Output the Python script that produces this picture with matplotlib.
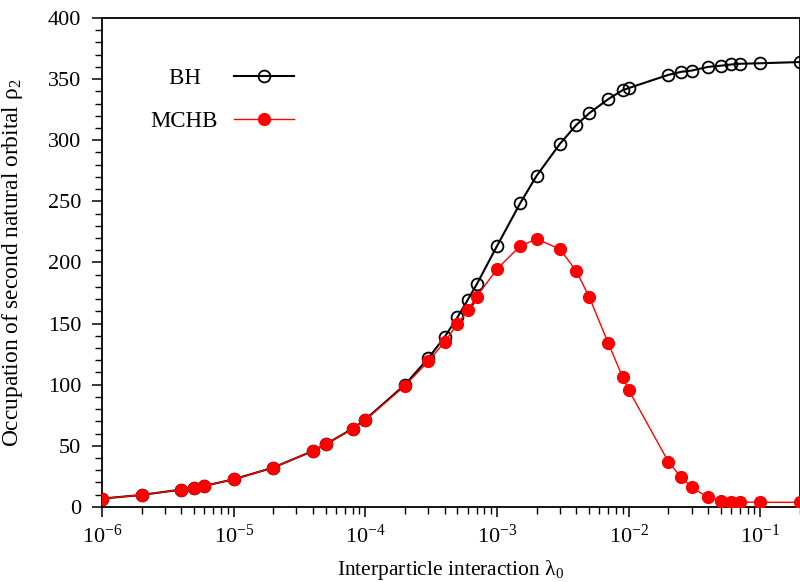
import matplotlib
matplotlib.use('Agg')
import matplotlib.pyplot as plt

# Serif, Times-like look
plt.rcParams['font.family'] = ['Liberation Serif', 'DejaVu Serif']
plt.rcParams['mathtext.fontset'] = 'custom'
plt.rcParams['mathtext.rm'] = 'Liberation Serif'
plt.rcParams['mathtext.it'] = 'Liberation Serif:italic'
plt.rcParams['axes.unicode_minus'] = False

# interaction strength lambda_0
lam_bh = [1e-6, 2e-6, 4e-6, 5e-6, 6e-6, 1e-5, 2e-5, 4e-5, 5e-5, 8e-5, 1e-4,
          2e-4, 3e-4, 4e-4, 5e-4, 6e-4, 7e-4, 1e-3, 1.5e-3, 2e-3, 3e-3, 4e-3,
          5e-3, 7e-3, 9e-3, 1e-2, 2e-2, 2.5e-2, 3e-2, 4e-2, 5e-2, 6e-2, 7e-2,
          1e-1, 2e-1]
rho_bh = [6.8, 9.8, 14.2, 15.8, 17.2, 22.6, 32.2, 45.8, 51.3, 64.0, 71.5,
          100.0, 121.5, 139.0, 155.0, 169.5, 182.0, 213.5, 248.5, 271.0, 297.0, 312.5,
          322.0, 333.7, 341.0, 342.7, 353.5, 356.0, 357.0, 360.0, 361.0, 362.0, 362.6,
          363.0, 364.0]

lam_mc = lam_bh
rho_mc = [6.8, 9.8, 14.2, 15.8, 17.2, 22.6, 32.2, 45.8, 51.3, 63.8, 71.2,
          99.2, 119.0, 135.0, 149.7, 161.0, 172.0, 194.7, 213.5, 219.2, 211.0, 193.0,
          172.0, 134.0, 106.0, 95.7, 37.0, 24.3, 16.0, 8.0, 5.0, 4.0, 4.0,
          3.8, 3.8]

fig = plt.figure(figsize=(8, 5.82), dpi=100)
ax = fig.add_axes([0.1275, 0.129, 0.8725, 0.840])

# trailing spaces so that the short label sits centred over the long one
ax.plot(lam_bh, rho_bh, '-o', color='black', lw=1.5, ms=8.5,
        mfc='none', mec='black', mew=1.3, label='BH\u00a0\u00a0\u00a0', zorder=2)
ax.plot(lam_mc, rho_mc, '-o', color='red', lw=1.0, ms=8.5,
        mfc='red', mec='red', label='MCHB', zorder=3)

ax.set_xscale('log')
ax.set_xlim(1e-6, 2e-1)
ax.set_ylim(0, 400)
ax.set_yticks(range(0, 401, 50))
ax.set_yticks(range(0, 401, 10), minor=True)

ax.tick_params(which='both', direction='out', top=False, right=False,
               labelsize=16)
ax.tick_params(which='major', length=7, width=1.1)
ax.tick_params(which='minor', length=5, width=1.0)
ax.tick_params(axis='y', pad=8)
ax.tick_params(axis='x', pad=6)

for s in ax.spines.values():
    s.set_linewidth(1.3)

ax.set_xlabel('Interparticle interaction λ$_0$', fontsize=15.5)
ax.set_ylabel('Occupation of second natural orbital ρ$_2$', fontsize=16.8)
ax.xaxis.set_label_coords(0.5, -0.104)
ax.yaxis.set_label_coords(-0.11, 0.5)

ax.legend(loc='upper left', bbox_to_anchor=(0.04, 0.94), frameon=False,
          markerfirst=False, fontsize=16.5, handlelength=2.6,
          labelspacing=0.95, handletextpad=0.7)

plt.savefig('out.png', dpi=100)
